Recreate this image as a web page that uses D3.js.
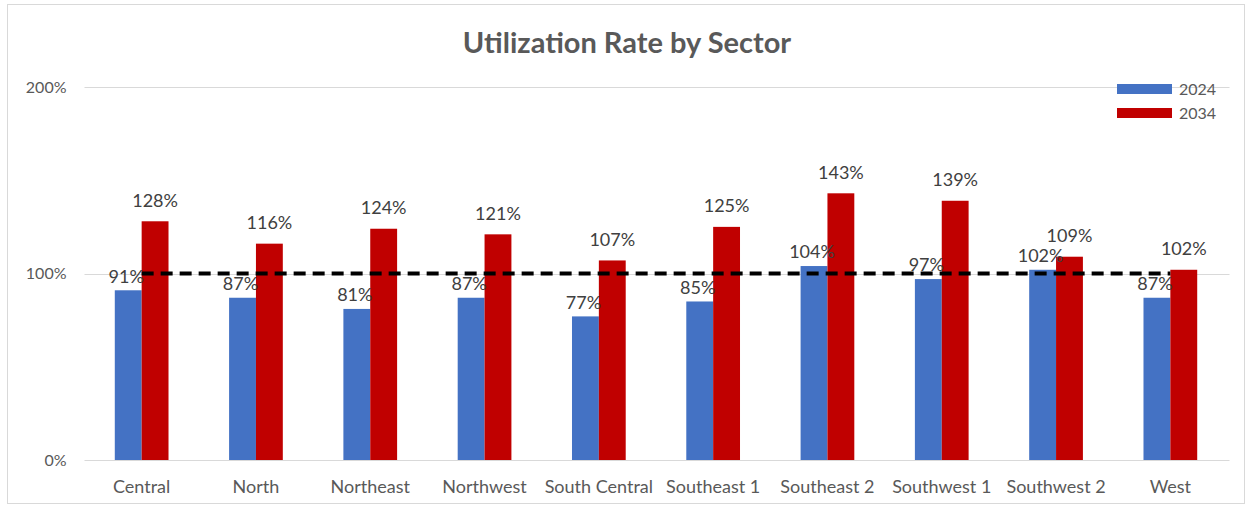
<!DOCTYPE html>
<html>
<head>
<meta charset="utf-8">
<script src="https://cdn.jsdelivr.net/npm/d3@7"></script>
<style>
  html, body { margin: 0; padding: 0; background: #ffffff; }
  svg { display: block; }
  text { font-family: "Lato", "Open Sans", sans-serif; }
</style>
</head>
<body>
<svg id="chart" width="1250" height="510"></svg>
<script>
const categories = ["Central", "North", "Northeast", "Northwest", "South Central",
  "Southeast 1", "Southeast 2", "Southwest 1", "Southwest 2", "West"];
const values2024 = [91, 87, 81, 87, 77, 85, 104, 97, 102, 87];
const values2034 = [128, 116, 124, 121, 107, 125, 143, 139, 109, 102];
const seriesNames = ["2024", "2034"];
const targetLevel = 100;
const yTicks = [0, 100, 200];
const title = "Utilization Rate by Sector";

const colors = { "2024": "#4472C4", "2034": "#C00000" };
const textColor = "#595959";
const labelColor = "#404040";

const svg = d3.select("#chart");
const W = 1250, H = 510;
const margin = { left: 84.5, right: 22.5, top: 87, bottom: 50 };
const plotRight = W - margin.right;
const plotBottom = H - margin.bottom;

// outer border
svg.append("rect")
  .attr("x", 7.5).attr("y", 4.5).attr("width", 1237).attr("height", 499)
  .attr("fill", "#ffffff").attr("stroke", "#d9d9d9").attr("stroke-width", 1);

const x = d3.scaleBand().domain(categories).range([margin.left, plotRight]).paddingInner(0).paddingOuter(0);
const x1 = d3.scaleBand().domain(seriesNames).range([0, 0]);
const groupWidth = x.bandwidth() * 0.47;
x1.range([(x.bandwidth() - groupWidth) / 2, (x.bandwidth() + groupWidth) / 2]);
const y = d3.scaleLinear().domain([0, 200]).range([plotBottom, margin.top]);

// gridlines
const grid = svg.append("g");
grid.selectAll("line").data(yTicks).join("line")
  .attr("x1", margin.left).attr("x2", plotRight + 2)
  .attr("y1", d => Math.round(y(d)) + 0.5).attr("y2", d => Math.round(y(d)) + 0.5)
  .attr("stroke", "#d9d9d9").attr("stroke-width", 1);

// y axis labels
const yAxis = d3.axisLeft(y).tickValues(yTicks).tickSize(0).tickPadding(0)
  .tickFormat(d => d + "%");
const yG = svg.append("g").attr("transform", `translate(${margin.left - 18},0)`).call(yAxis);
yG.select(".domain").remove();
yG.selectAll("text").attr("fill", textColor).style("font-size", "16px")
  .style("font-family", "Lato, sans-serif");

// x axis labels
const xAxis = d3.axisBottom(x).tickSize(0).tickPadding(0);
const xG = svg.append("g").attr("transform", `translate(0,${plotBottom + 20})`).call(xAxis);
xG.select(".domain").remove();
xG.selectAll("text").attr("fill", textColor).style("font-size", "18px")
  .style("font-family", "Lato, sans-serif");

// bars
const rows = categories.map((c, i) => ({ cat: c, vals: [
  { s: "2024", v: values2024[i] }, { s: "2034", v: values2034[i] }] }));

const groups = svg.append("g").selectAll("g").data(rows).join("g")
  .attr("transform", d => `translate(${x(d.cat)},0)`);

groups.selectAll("rect").data(d => d.vals).join("rect")
  .attr("x", d => x1(d.s)).attr("width", x1.bandwidth())
  .attr("y", d => y(d.v)).attr("height", d => y(0) - y(d.v))
  .attr("fill", d => colors[d.s]);

// dashed target line
const line = d3.line().x(d => x(d) + x.bandwidth() / 2).y(() => y(targetLevel));
svg.append("path").datum(categories)
  .attr("d", line).attr("fill", "none").attr("stroke", "#000000")
  .attr("stroke-width", 4).attr("stroke-dasharray", "12,7");

// data labels
groups.selectAll("text.lbl").data(d => d.vals).join("text")
  .attr("class", "lbl")
  .attr("x", d => x1(d.s) + x1.bandwidth() / 2 + (d.s === "2024" ? -2 : 0))
  .attr("y", d => y(d.v) - (d.s === "2024" ? 14 : 21))
  .attr("dy", "0.35em")
  .attr("text-anchor", "middle")
  .attr("fill", labelColor)
  .style("font-size", "18px")
  .text(d => d.v + "%");

// title
svg.append("text").attr("x", 627).attr("y", 43).attr("dy", "0.35em")
  .attr("text-anchor", "middle").attr("fill", textColor)
  .style("font-size", "29px").style("font-weight", "bold")
  .text(title);

// legend
const legend = svg.append("g").attr("transform", "translate(1117,84)");
const li = legend.selectAll("g").data(seriesNames).join("g")
  .attr("transform", (d, i) => `translate(0,${i * 24})`);
li.append("rect").attr("width", 55).attr("height", 10).attr("fill", d => colors[d]);
li.append("text").attr("x", 62).attr("y", 5).attr("dy", "0.35em")
  .attr("fill", textColor).style("font-size", "16px").text(d => d);
</script>
</body>
</html>
